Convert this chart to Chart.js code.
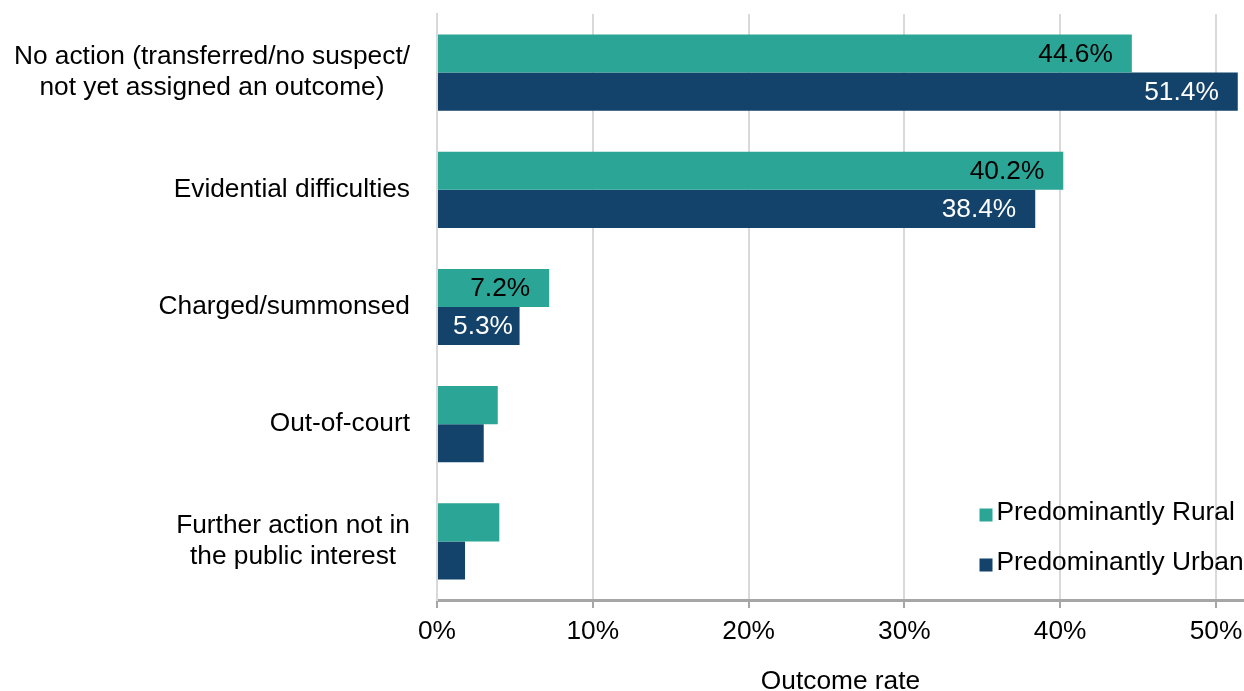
<!DOCTYPE html>
<html>
<head>
<meta charset="utf-8">
<title>Outcome rate by area type</title>
<script src="https://cdn.jsdelivr.net/npm/chart.js@4/dist/chart.umd.min.js"></script>
<style>
  html, body { margin: 0; padding: 0; background: #ffffff; }
  #wrap { width: 1244px; height: 691px; }
</style>
</head>
<body>
<div id="wrap"><canvas id="chart" width="1244" height="691"></canvas></div>
<script>
// Outcome categories (multi-line labels are split into lines)
const categories = [
  ['No action (transferred/no suspect/', 'not yet assigned an outcome)'],
  ['Evidential difficulties'],
  ['Charged/summonsed'],
  ['Out-of-court'],
  ['Further action not in', 'the public interest']
];

// Outcome rates, percent
const ruralValues = [44.6, 40.2, 7.2, 3.9, 4.0];
const urbanValues = [51.4, 38.4, 5.3, 3.0, 1.8];

// Categories whose bars carry a value label
const showValueLabel = [true, true, true, false, false];

// Tick values on the outcome-rate axis
const xTickValues = [0, 10, 20, 30, 40, 50];

const seriesNames = ['Predominantly Rural', 'Predominantly Urban'];
const seriesColors = ['#2aa596', '#13426b'];
const labelColors = ['#000000', '#ffffff'];

const FONT_FAMILY = "'Liberation Sans', Arial, Helvetica, sans-serif";
const FONT_SIZE = 26.3;

// Category labels: each block right-aligned, its lines centred within it
const categoryLabelPlugin = {
  id: 'categoryLabels',
  afterDraw(chart) {
    const ctx = chart.ctx;
    const yScale = chart.scales.y;
    const rightEdge = yScale.right - 27;
    const lineHeight = 31;
    ctx.save();
    ctx.font = FONT_SIZE + 'px ' + FONT_FAMILY;
    ctx.fillStyle = '#000000';
    ctx.textAlign = 'center';
    ctx.textBaseline = 'middle';
    categories.forEach((lines, i) => {
      const widest = Math.max(...lines.map(l => ctx.measureText(l).width));
      const cx = rightEdge - widest / 2;
      const cy = yScale.getPixelForValue(i) - 0.5;
      const top = cy - (lines.length - 1) * lineHeight / 2;
      lines.forEach((line, k) => ctx.fillText(line, cx, top + k * lineHeight));
    });
    ctx.restore();
  }
};

// Value labels placed inside the end of each bar
const valueLabelPlugin = {
  id: 'valueLabels',
  afterDatasetsDraw(chart) {
    const ctx = chart.ctx;
    ctx.save();
    ctx.font = FONT_SIZE + 'px ' + FONT_FAMILY;
    ctx.textAlign = 'left';
    ctx.textBaseline = 'middle';
    chart.data.datasets.forEach((ds, di) => {
      const meta = chart.getDatasetMeta(di);
      meta.data.forEach((bar, i) => {
        if (!showValueLabel[i]) return;
        const p = bar.getProps(['x', 'y', 'base'], true);
        const text = ds.data[i].toFixed(1) + '%';
        const w = ctx.measureText(text).width;
        const end = p.x - 19;
        const start = Math.max(p.base + 15, end - w);
        ctx.fillStyle = labelColors[di];
        ctx.fillText(text, start, p.y + 1);
      });
    });
    ctx.restore();
  }
};

// Legend drawn inside the lower right of the plot area
const innerLegendPlugin = {
  id: 'innerLegend',
  afterDraw(chart) {
    const ctx = chart.ctx;
    const area = chart.chartArea;
    const x0 = area.right - 264.5;
    const y0 = area.bottom - 85;
    ctx.save();
    ctx.font = FONT_SIZE + 'px ' + FONT_FAMILY;
    ctx.textAlign = 'left';
    ctx.textBaseline = 'middle';
    chart.data.datasets.forEach((ds, i) => {
      const cy = y0 + i * 50;
      ctx.fillStyle = ds.backgroundColor;
      ctx.fillRect(x0, cy - 6.5, 13, 13);
      ctx.fillStyle = '#000000';
      ctx.fillText(ds.label, x0 + 17, cy - 2);
    });
    ctx.restore();
  }
};

new Chart(document.getElementById('chart'), {
  type: 'bar',
  data: {
    labels: categories,
    datasets: [
      { label: seriesNames[0], data: ruralValues, backgroundColor: seriesColors[0] },
      { label: seriesNames[1], data: urbanValues, backgroundColor: seriesColors[1] }
    ]
  },
  options: {
    indexAxis: 'y',
    responsive: false,
    animation: false,
    devicePixelRatio: 1,
    layout: { padding: { top: 14, right: 0, left: 0, bottom: 0 } },
    datasets: {
      bar: { categoryPercentage: 0.65, barPercentage: 1.0, borderWidth: 0 }
    },
    plugins: {
      legend: { display: false },
      tooltip: { enabled: false }
    },
    scales: {
      x: {
        type: 'linear',
        min: 0,
        max: 51.8,
        afterBuildTicks: scale => { scale.ticks = xTickValues.map(v => ({ value: v })); },
        afterFit: scale => {
          scale.height = 91;
          scale.paddingLeft = 0;
          scale.paddingRight = 0;
        },
        ticks: {
          callback: v => v + '%',
          color: '#000000',
          font: { family: FONT_FAMILY, size: FONT_SIZE },
          padding: 8,
          maxRotation: 0,
          autoSkip: false
        },
        grid: {
          color: '#d9d9d9',
          lineWidth: 2,
          tickColor: '#a6a6a6',
          tickLength: 8,
          tickWidth: 2
        },
        border: { display: true, color: '#a6a6a6', width: 3 },
        title: {
          display: true,
          text: 'Outcome rate',
          color: '#000000',
          font: { family: FONT_FAMILY, size: FONT_SIZE, lineHeight: 1 },
          padding: { top: 0, bottom: -4 }
        }
      },
      y: {
        type: 'category',
        afterFit: scale => { scale.width = 437; },
        ticks: { display: false },
        grid: { display: false },
        border: { display: true, color: '#d9d9d9', width: 2 }
      }
    }
  },
  plugins: [categoryLabelPlugin, valueLabelPlugin, innerLegendPlugin]
});
</script>
</body>
</html>
